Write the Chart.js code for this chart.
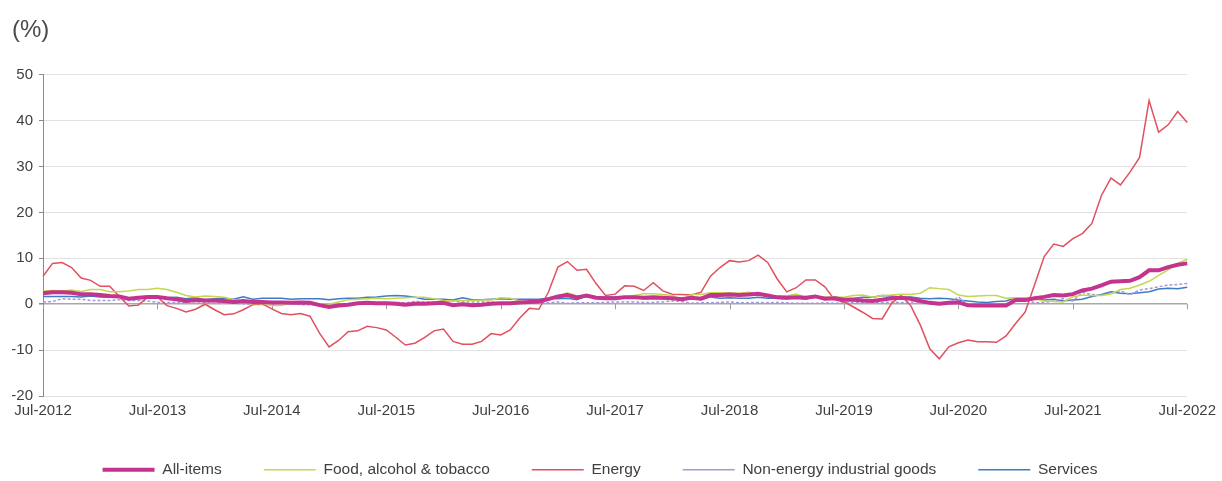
<!DOCTYPE html>
<html>
<head>
<meta charset="utf-8">
<script src="https://cdn.jsdelivr.net/npm/chart.js@4.4.0/dist/chart.umd.min.js"></script>
<style>
  body { margin: 0; background: #fff; }
  canvas { display: block; }
</style>
</head>
<body>
<canvas id="myChart" width="1222" height="481"></canvas>
<script>
// months Jul-2012 .. Jul-2022 (121 points)
let nomesMes = ['Jan', 'Feb', 'Mar', 'Apr', 'May', 'Jun', 'Jul', 'Aug', 'Sep', 'Oct', 'Nov', 'Dec']
let meses = []
for (let i = 0; i < 121; i++) {
    let m = (6 + i) % 12
    let ano = 2012 + Math.floor((6 + i) / 12)
    meses.push(nomesMes[m] + '-' + ano)
}

let allItems = [
    2.4, 2.6, 2.6, 2.5, 2.2, 2.2,
    2.0, 1.8, 1.7, 1.2, 1.4, 1.6, 1.6, 1.3, 1.1, 0.7, 0.9, 0.8,
    0.8, 0.7, 0.5, 0.7, 0.5, 0.5, 0.4, 0.4, 0.3, 0.4, 0.3, -0.2,
    -0.6, -0.3, -0.1, 0.2, 0.3, 0.2, 0.2, 0.1, -0.1, 0.1, 0.1, 0.2,
    0.3, -0.2, 0.0, -0.2, -0.1, 0.1, 0.2, 0.2, 0.4, 0.5, 0.6, 1.1,
    1.7, 2.0, 1.5, 1.9, 1.4, 1.3, 1.3, 1.5, 1.5, 1.4, 1.5, 1.4,
    1.3, 1.1, 1.4, 1.2, 2.0, 2.0, 2.1, 2.0, 2.1, 2.3, 1.9, 1.5,
    1.4, 1.5, 1.4, 1.7, 1.2, 1.3, 1.0, 1.0, 0.8, 0.7, 1.0, 1.3,
    1.4, 1.2, 0.7, 0.3, 0.1, 0.3, 0.4, -0.2, -0.3, -0.3, -0.3, -0.3,
    0.9, 0.9, 1.3, 1.6, 2.0, 1.9, 2.2, 3.0, 3.4, 4.1, 4.9, 5.0,
    5.1, 5.9, 7.4, 7.4, 8.1, 8.6, 8.9
]

let food = [
    2.9, 3.0, 2.9, 3.1, 2.8, 3.2,
    3.2, 2.7, 2.7, 2.9, 3.2, 3.2, 3.5, 3.2, 2.6, 1.9, 1.6, 1.8,
    1.7, 1.5, 1.0, 0.7, 0.1, 0.2, -0.3, -0.3, 0.3, 0.5, 0.5, 0.0,
    0.0, 0.5, 1.0, 1.1, 1.2, 1.3, 1.2, 1.3, 1.4, 1.5, 1.5, 1.2,
    0.8, 0.7, 0.8, 0.8, 0.9, 0.9, 1.4, 1.3, 0.7, 0.4, 0.7, 1.2,
    1.8, 2.5, 1.8, 1.5, 1.5, 1.3, 1.4, 1.4, 1.9, 2.3, 2.3, 2.1,
    1.9, 1.0, 2.1, 2.1, 2.5, 2.5, 2.5, 2.4, 2.6, 2.2, 1.9, 1.8,
    1.8, 2.2, 1.5, 1.5, 1.6, 1.6, 1.5, 1.9, 2.0, 1.5, 1.9, 2.0,
    2.2, 2.1, 2.4, 3.6, 3.4, 3.2, 2.0, 1.7, 1.8, 1.9, 1.9, 1.3,
    1.4, 1.3, 1.1, 0.7, 0.6, 0.5, 1.6, 2.0, 1.9, 1.9, 2.2, 3.2,
    3.5, 4.2, 5.0, 6.3, 7.5, 8.9, 9.8
]

let energy = [
    6.1, 8.9, 9.1, 8.0, 5.7, 5.2,
    3.9, 3.9, 1.7, -0.4, -0.2, 1.6, 1.6, -0.3, -0.9, -1.7, -1.1, 0.0,
    -1.2, -2.3, -2.1, -1.2, -0.1, 0.1, -1.0, -2.0, -2.3, -2.0, -2.6, -6.3,
    -9.3, -7.9, -6.0, -5.8, -4.8, -5.1, -5.6, -7.2, -8.9, -8.5, -7.3, -5.8,
    -5.4, -8.1, -8.7, -8.7, -8.1, -6.4, -6.7, -5.6, -3.0, -0.9, -1.1, 2.6,
    8.1, 9.3, 7.4, 7.6, 4.5, 1.9, 2.2, 4.0, 3.9, 3.0, 4.7, 2.9,
    2.2, 2.1, 2.0, 2.6, 6.1, 8.0, 9.5, 9.2, 9.5, 10.7, 9.1, 5.5,
    2.7, 3.6, 5.3, 5.3, 3.8, 1.0, 0.5, -0.6, -1.8, -3.1, -3.2, 0.2,
    1.9, -0.3, -4.5, -9.7, -11.9, -9.3, -8.4, -7.8, -8.2, -8.2, -8.3, -6.9,
    -4.2, -1.7, 4.3, 10.4, 13.1, 12.6, 14.3, 15.4, 17.6, 23.7, 27.5, 26.0,
    28.8, 32.0, 44.4, 37.5, 39.1, 42.0, 39.6
]

let naoEnergia = [
    0.5, 0.6, 1.2, 1.1, 1.1, 0.8,
    0.8, 0.8, 1.0, 0.8, 0.8, 0.7, 0.4, 0.4, 0.4, 0.3, 0.2, 0.3,
    0.2, 0.4, 0.2, 0.1, 0.0, -0.1, 0.0, 0.3, 0.2, -0.1, -0.1, -0.1,
    -0.1, -0.1, -0.1, 0.3, 0.3, 0.4, 0.4, 0.4, 0.3, 0.6, 0.5, 0.5,
    0.7, 0.7, 0.5, 0.5, 0.5, 0.5, 0.3, 0.3, 0.3, 0.3, 0.3, 0.3,
    0.5, 0.2, 0.3, 0.3, 0.3, 0.4, 0.5, 0.5, 0.5, 0.4, 0.4, 0.5,
    0.7, 0.6, 0.2, 0.3, 0.3, 0.4, 0.5, 0.3, 0.3, 0.4, 0.3, 0.4,
    0.3, 0.2, 0.2, 0.2, 0.3, 0.2, 0.4, 0.4, 0.3, 0.3, 0.4, 0.5,
    0.3, 0.5, 0.5, 0.3, 0.2, 0.2, 1.6, -0.1, -0.1, -0.1, -0.3, -0.5,
    1.5, 1.0, 0.3, 0.4, 0.7, 1.2, 0.7, 2.6, 2.1, 2.0, 2.4, 2.9,
    2.1, 3.1, 3.4, 3.8, 4.2, 4.3, 4.5
]

let servicos = [
    1.7, 1.7, 1.7, 1.7, 1.6, 1.8,
    1.6, 1.5, 1.8, 1.1, 1.5, 1.4, 1.4, 1.4, 1.5, 1.2, 1.4, 1.0,
    1.2, 1.3, 1.1, 1.6, 1.1, 1.3, 1.3, 1.3, 1.1, 1.2, 1.2, 1.2,
    1.0, 1.2, 1.3, 1.3, 1.5, 1.6, 1.8, 1.9, 1.8, 1.5, 1.1, 1.1,
    1.1, 0.9, 1.4, 1.0, 1.0, 1.1, 1.2, 1.1, 1.1, 1.1, 1.1, 1.3,
    1.2, 1.3, 1.0, 1.8, 1.3, 1.6, 1.6, 1.6, 1.5, 1.2, 1.2, 1.2,
    1.2, 1.3, 1.5, 1.0, 1.6, 1.3, 1.4, 1.3, 1.3, 1.5, 1.3, 1.3,
    1.2, 1.4, 1.1, 1.9, 1.0, 1.6, 1.2, 1.3, 1.5, 1.5, 1.9, 1.8,
    1.5, 1.6, 1.3, 1.2, 1.3, 1.2, 0.9, 0.7, 0.5, 0.4, 0.6, 0.7,
    1.4, 1.3, 1.3, 0.9, 1.1, 0.7, 0.9, 1.1, 1.7, 2.1, 2.7, 2.4,
    2.3, 2.5, 2.7, 3.3, 3.5, 3.4, 3.7
]

let yMin = -20
let yMax = 50
let yPasso = 10

let corAll = '#c4348e'
let corFood = '#c5d64f'
let corEnergy = '#e0505f'
let corNaoEnergia = '#a598d8'
let corServicos = '#3f7cc2'
let fonte = "'Liberation Sans', Arial, sans-serif"

// little tick marks on the zero (category) axis, like the Excel original
const marcasZero = {
    id: 'marcasZero',
    beforeDatasetsDraw(chart) {
        const c = chart.ctx
        const x = chart.scales.x
        const y0 = chart.scales.y.getPixelForValue(0)
        c.save()
        c.strokeStyle = '#9a9a9a'
        c.lineWidth = 1
        for (let i = 0; i < meses.length; i += 12) {
            const px = Math.round(x.getPixelForValue(i)) + 0.5
            c.beginPath()
            c.moveTo(px, y0)
            c.lineTo(px, y0 + 5)
            c.stroke()
        }
        c.restore()
    }
}

function serie(label, data, cor, largura, tracejado) {
    return {
        label: label,
        data: data,
        borderColor: cor,
        backgroundColor: cor,
        borderWidth: largura,
        borderDash: tracejado || [],
        pointRadius: 0,
        pointStyle: 'line',
        tension: 0,
        fill: false
    }
}

const ctx = document.getElementById('myChart').getContext('2d')
let myChart = new Chart(ctx, {
    type: 'line',
    data: {
        labels: meses,
        datasets: [
            serie('All-items', allItems, corAll, 4),
            serie('Food, alcohol & tobacco', food, corFood, 1.5),
            serie('Energy', energy, corEnergy, 1.5),
            serie('Non-energy industrial goods', naoEnergia, corNaoEnergia, 1.5, [3, 2]),
            serie('Services', servicos, corServicos, 1.5)
        ]
    },
    plugins: [marcasZero],
    options: {
        responsive: false,
        animation: false,
        layout: {
            padding: { left: 12, right: 34, top: 0, bottom: 0 }
        },
        plugins: {
            title: {
                display: true,
                text: '(%)',
                align: 'start',
                color: '#4a4a4a',
                font: { family: fonte, size: 24, weight: 'normal' },
                padding: { top: 16, bottom: 30 }
            },
            legend: {
                position: 'bottom',
                maxHeight: 61,
                labels: {
                    usePointStyle: true,
                    pointStyleWidth: 52,
                    color: '#404040',
                    font: { family: fonte, size: 15.5 },
                    padding: 42
                }
            },
            tooltip: { enabled: false }
        },
        scales: {
            x: {
                offset: false,
                afterFit: function(scale) { scale.height = 24 },
                grid: { display: false, drawTicks: false },
                border: { display: false },
                ticks: {
                    autoSkip: false,
                    maxRotation: 0,
                    padding: 6,
                    color: '#404040',
                    font: { family: fonte, size: 15 },
                    callback: function(v, i) {
                        return i % 12 === 0 ? meses[i] : null
                    }
                }
            },
            y: {
                min: yMin,
                max: yMax,
                afterFit: function(scale) { scale.width = 31 },
                ticks: {
                    stepSize: yPasso,
                    padding: 6,
                    color: '#404040',
                    font: { family: fonte, size: 15 }
                },
                grid: {
                    color: function(c) { return c.tick && c.tick.value === 0 ? '#a8a8a8' : '#e2e2e2' },
                    lineWidth: function(c) { return c.tick && c.tick.value === 0 ? 1.5 : 1 },
                    tickColor: '#8a8a8a',
                    tickLength: 4
                },
                border: { color: '#8a8a8a', width: 1 }
            }
        }
    }
})
</script>
</body>
</html>
